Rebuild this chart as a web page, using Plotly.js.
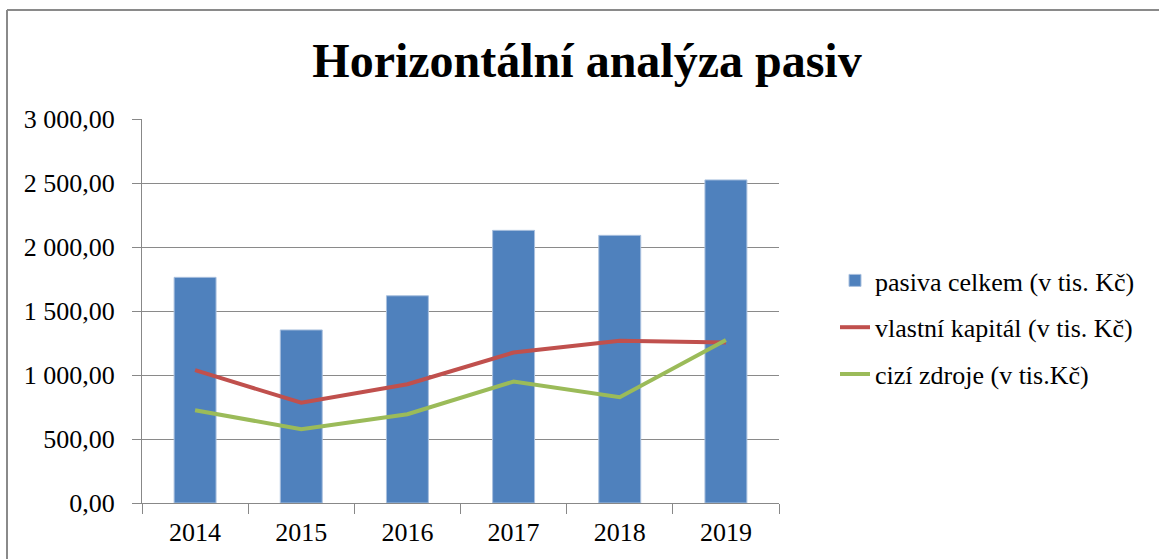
<!DOCTYPE html>
<html>
<head>
<meta charset="utf-8">
<script src="https://cdn.plot.ly/plotly-3.0.1.min.js"></script>
<style>html,body{margin:0;padding:0;background:#fff;}#chart{width:1159px;height:559px;}</style>
</head>
<body>
<div id="chart"></div>
<script>
const years = ["2014", "2015", "2016", "2017", "2018", "2019"];
const pasivaCelkem = [1763, 1352, 1619, 2130, 2091, 2524];
const vlastniKapital = [1038, 783, 928, 1176, 1267, 1254];
const ciziZdroje = [725, 576, 694, 949, 827, 1273];
const seriesNames = ["pasiva celkem (v tis. Kč)", "vlastní kapitál (v tis. Kč)", "cizí zdroje (v tis.Kč)"];
const titleText = "Horizontální analýza pasiv";

const serif = "Liberation Serif";
const lg = s => `<span style="font-family:'Liberation Serif',serif">${s}</span>`;

const traces = [
  {type: "bar", x: years, y: pasivaCelkem, name: lg(seriesNames[0]), legendgroup: "a",
   marker: {color: "#4F81BD", line: {color: "#a9c0de", width: 1}}},
  {type: "scatter", mode: "lines", x: years, y: vlastniKapital, name: lg(seriesNames[1]), legendgroup: "b",
   line: {color: "#C0504D", width: 4}},
  {type: "scatter", mode: "lines", x: years, y: ciziZdroje, name: lg(seriesNames[2]), legendgroup: "c",
   line: {color: "#9BBB59", width: 4}}
];

const L = 142, R = 380, T = 119, B = 56, W = 1159, H = 559;
const pw = W - L - R, ph = H - T - B;
const px = p => (p - L) / pw;
const py = q => (H - B - q) / ph;

const layout = {
  width: W, height: H,
  margin: {l: L, r: R, t: T, b: B, pad: 0, autoexpand: false},
  paper_bgcolor: "#fff", plot_bgcolor: "#fff",
  separators: ", ",
  font: {family: serif, color: "#000", size: 26},
  title: {text: titleText, font: {family: serif, size: 48, color: "#000", weight: "bold"},
          x: 587 / W, xref: "container", xanchor: "center", y: 1 - 60 / H, yref: "container", yanchor: "middle"},
  bargap: 0.605,
  showlegend: true,
  legend: {x: 835 / W, xref: "container", y: 1 - 257 / H, yref: "container", yanchor: "top", xanchor: "left",
           font: {family: serif, size: 26, color: "#000"}, traceorder: "grouped", tracegroupgap: 10,
           bgcolor: "rgba(0,0,0,0)", borderwidth: 0},
  xaxis: {type: "category", showgrid: false, showline: true, linecolor: "#888", linewidth: 1,
          ticks: "outside", tickson: "boundaries", ticklen: 10, tickcolor: "#888",
          tickfont: {family: serif, size: 26, color: "#000"}, ticklabelstandoff: 6, fixedrange: true},
  yaxis: {range: [0, 3000], tickvals: [0, 500, 1000, 1500, 2000, 2500, 3000], tickformat: ",.2f",
          showgrid: true, gridcolor: "#8a8a8a", gridwidth: 1, zeroline: false,
          showline: true, linecolor: "#888", linewidth: 1, ticks: "outside", ticklen: 9, tickcolor: "#888",
          tickfont: {family: serif, size: 26, color: "#000"}, ticklabelstandoff: 12, fixedrange: true},
  shapes: [
    {type: "line", xref: "paper", yref: "paper", x0: px(7), x1: px(1159), y0: py(10), y1: py(10),
     line: {color: "#8a8a8a", width: 2}},
    {type: "line", xref: "paper", yref: "paper", x0: px(7), x1: px(7), y0: py(10), y1: py(559),
     line: {color: "#8a8a8a", width: 2}}
  ]
};

Plotly.newPlot("chart", traces, layout, {displayModeBar: false, staticPlot: true});
</script>
</body>
</html>
